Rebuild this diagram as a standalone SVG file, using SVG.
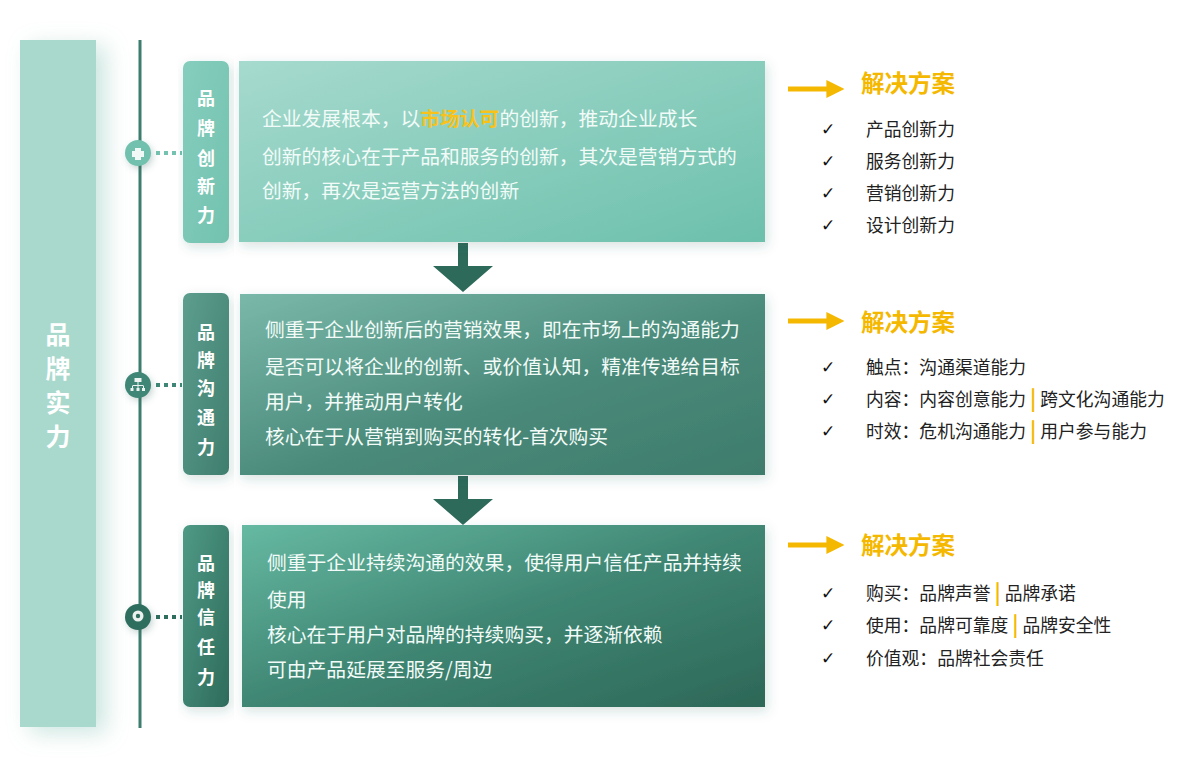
<svg xmlns="http://www.w3.org/2000/svg" width="1200" height="767" viewBox="0 0 1200 767">
<defs>
<linearGradient id="gBox1" x1="0" y1="0" x2="1" y2="1"><stop offset="0" stop-color="#a6dace"/><stop offset="1" stop-color="#6cc0ac"/></linearGradient>
<linearGradient id="gBox2" x1="0" y1="0" x2="1" y2="1"><stop offset="0" stop-color="#7ab9aa"/><stop offset="0.55" stop-color="#4a8a7a"/><stop offset="1" stop-color="#3e7c6c"/></linearGradient>
<linearGradient id="gBox3" x1="0" y1="0" x2="1" y2="1"><stop offset="0" stop-color="#66b9a2"/><stop offset="0.5" stop-color="#3f8673"/><stop offset="1" stop-color="#2d6757"/></linearGradient>
<linearGradient id="gLab1" x1="0" y1="0" x2="1" y2="1"><stop offset="0" stop-color="#86cdbd"/><stop offset="1" stop-color="#72c2af"/></linearGradient>
<linearGradient id="gLab2" x1="0" y1="0" x2="1" y2="1"><stop offset="0" stop-color="#5d9e8e"/><stop offset="1" stop-color="#3f7e6e"/></linearGradient>
<linearGradient id="gLab3" x1="0" y1="0" x2="1" y2="1"><stop offset="0" stop-color="#4f9a85"/><stop offset="1" stop-color="#2e6b5b"/></linearGradient>
<filter id="shadow" x="-10%" y="-10%" width="120%" height="130%"><feDropShadow dx="2" dy="4" stdDeviation="6" flood-color="#2f5e52" flood-opacity="0.18"/></filter>
<filter id="barShadow" x="-30%" y="-5%" width="190%" height="115%"><feDropShadow dx="10" dy="6" stdDeviation="11" flood-color="#6fb8a6" flood-opacity="0.35"/></filter>
<filter id="cshadow" x="-50%" y="-50%" width="200%" height="200%"><feDropShadow dx="2" dy="3" stdDeviation="3" flood-color="#2f5e52" flood-opacity="0.25"/></filter>
<marker id="goldHead" viewBox="0 0 10 10" refX="2" refY="5" markerWidth="3.6" markerHeight="3.6" orient="auto"><path d="M0,0 L10,5 L0,10 z" fill="#f5b800"/></marker>
<style>
.cjk{font-family:"Noto Sans CJK SC","Liberation Sans",sans-serif;}
.body{font-size:19.8px;fill:#f2fbf8;}
.hl{fill:#f9c21b;font-weight:bold;}
.lab{font-size:18px;font-weight:bold;fill:#ffffff;text-anchor:middle;}
.head{font-size:23.5px;font-weight:bold;fill:#f5b800;}
.item{font-size:17.8px;fill:#222222;}
.chk{font-family:"DejaVu Sans",sans-serif;font-size:17px;fill:#111111;}
.bar{fill:#f5b800;font-weight:bold;font-size:21px;}
.dots{stroke-width:4;stroke-dasharray:4 4;fill:none;}
.garrow{stroke:#f5b800;stroke-width:5;fill:none;}
</style>
</defs>
<rect width="1200" height="767" fill="#ffffff"/>

<g id="brand-strength">
<rect x="20" y="40" width="76" height="687" fill="#a9d9cd" filter="url(#barShadow)"/>
<g class="cjk" font-size="25" font-weight="bold" fill="#ffffff" text-anchor="middle">
<text x="58" y="344">品</text><text x="58" y="378">牌</text><text x="58" y="412">实</text><text x="58" y="446">力</text>
</g>
</g>

<g id="timeline">
<line x1="140" y1="40" x2="140" y2="728" stroke="#3d7d6d" stroke-width="3"/>
</g>

<g id="connectors">
<path class="dots" d="M156,153 H182" stroke="#74c2b0"/>
<path class="dots" d="M156,385 H182" stroke="#3f8676"/>
<path class="dots" d="M156,617 H182" stroke="#2f6e5e"/>
<path d="M458,243 H468 V266 H493 L463,292 L433,266 H458 Z" fill="#2d6a5a"/>
<path d="M458,476 H468 V499 H493 L463,525 L433,499 H458 Z" fill="#2d6a5a"/>
<path class="garrow" d="M788,89 H830" marker-end="url(#goldHead)"/>
<path class="garrow" d="M788,321 H830" marker-end="url(#goldHead)"/>
<path class="garrow" d="M788,545 H830" marker-end="url(#goldHead)"/>
</g>

<g id="node-icon-1" filter="url(#cshadow)">
<circle cx="138" cy="153" r="13" fill="#72c1af"/>
<path d="M135,148 h6 v3 h3 v6 h-3 v3 h-6 v-3 h-3 v-6 h3 z" fill="#ffffff" opacity="0.9"/>
</g>
<g id="node-icon-2" filter="url(#cshadow)">
<circle cx="138" cy="385" r="13" fill="#3f8676"/>
<g fill="#ffffff" opacity="0.9">
<rect x="134.5" y="378" width="7" height="4"/>
<rect x="137.5" y="382" width="1" height="3"/>
<rect x="132.5" y="385" width="11" height="1"/>
<rect x="132" y="386" width="1" height="2"/><rect x="137.5" y="386" width="1" height="2"/><rect x="143" y="386" width="1" height="2"/>
<rect x="130.5" y="388" width="3" height="3"/><rect x="136.5" y="388" width="3" height="3"/><rect x="142" y="388" width="3" height="3"/>
</g>
</g>
<g id="node-icon-3" filter="url(#cshadow)">
<circle cx="138" cy="617" r="13" fill="#2f6e5e"/>
<circle cx="138" cy="616" r="5.5" fill="#ffffff" opacity="0.9"/>
<circle cx="138" cy="616" r="2.2" fill="#2f6e5e"/>
</g>

<g id="label-innovation">
<rect x="183" y="61" width="46" height="182" rx="7" fill="url(#gLab1)" filter="url(#shadow)"/>
<g class="cjk lab"><text x="206" y="105">品</text><text x="206" y="135">牌</text><text x="206" y="165">创</text><text x="206" y="193">新</text><text x="206" y="222">力</text></g>
</g>
<g id="label-communication">
<rect x="183" y="293" width="46" height="182" rx="7" fill="url(#gLab2)" filter="url(#shadow)"/>
<g class="cjk lab"><text x="206" y="339">品</text><text x="206" y="367">牌</text><text x="206" y="395">沟</text><text x="206" y="424">通</text><text x="206" y="454">力</text></g>
</g>
<g id="label-trust">
<rect x="183" y="525" width="46" height="182" rx="7" fill="url(#gLab3)" filter="url(#shadow)"/>
<g class="cjk lab"><text x="206" y="570">品</text><text x="206" y="597">牌</text><text x="206" y="624">信</text><text x="206" y="654">任</text><text x="206" y="684">力</text></g>
</g>

<g id="box-innovation">
<rect x="239" y="61" width="526" height="181" fill="url(#gBox1)" filter="url(#shadow)"/>
<g class="cjk body">
<text x="262" y="126">企业发展根本，以<tspan class="hl">市场认可</tspan>的创新，推动企业成长</text>
<text x="262" y="164">创新的核心在于产品和服务的创新，其次是营销方式的</text>
<text x="262" y="198">创新，再次是运营方法的创新</text>
</g>
</g>
<g id="box-communication">
<rect x="240" y="294" width="525" height="181" fill="url(#gBox2)" filter="url(#shadow)"/>
<g class="cjk body">
<text x="265" y="337">侧重于企业创新后的营销效果，即在市场上的沟通能力</text>
<text x="265" y="374">是否可以将企业的创新、或价值认知，精准传递给目标</text>
<text x="265" y="409">用户，并推动用户转化</text>
<text x="265" y="444">核心在于从营销到购买的转化-首次购买</text>
</g>
</g>
<g id="box-trust">
<rect x="242" y="525" width="523" height="182" fill="url(#gBox3)" filter="url(#shadow)"/>
<g class="cjk body">
<text x="267" y="570">侧重于企业持续沟通的效果，使得用户信任产品并持续</text>
<text x="267" y="607">使用</text>
<text x="267" y="642">核心在于用户对品牌的持续购买，并逐渐依赖</text>
<text x="267" y="677">可由产品延展至服务/周边</text>
</g>
</g>

<g id="solution-1">
<text class="cjk head" x="861" y="92">解决方案</text>
<text class="chk" x="821" y="135">✓</text><text class="cjk item" x="866" y="136">产品创新力</text>
<text class="chk" x="821" y="167">✓</text><text class="cjk item" x="866" y="168">服务创新力</text>
<text class="chk" x="821" y="199">✓</text><text class="cjk item" x="866" y="200">营销创新力</text>
<text class="chk" x="821" y="231">✓</text><text class="cjk item" x="866" y="232">设计创新力</text>
</g>
<g id="solution-2">
<text class="cjk head" x="861" y="331">解决方案</text>
<text class="chk" x="821" y="373">✓</text><text class="cjk item" x="866" y="374">触点：沟通渠道能力</text>
<text class="chk" x="821" y="405">✓</text><text class="cjk item" x="866" y="406">内容：内容创意能力<tspan class="bar" dx="4">|</tspan><tspan dx="4">跨文化沟通能力</tspan></text>
<text class="chk" x="821" y="437">✓</text><text class="cjk item" x="866" y="438">时效：危机沟通能力<tspan class="bar" dx="4">|</tspan><tspan dx="4">用户参与能力</tspan></text>
</g>
<g id="solution-3">
<text class="cjk head" x="861" y="554">解决方案</text>
<text class="chk" x="821" y="599">✓</text><text class="cjk item" x="866" y="600">购买：品牌声誉<tspan class="bar" dx="4">|</tspan><tspan dx="4">品牌承诺</tspan></text>
<text class="chk" x="821" y="631">✓</text><text class="cjk item" x="866" y="632">使用：品牌可靠度<tspan class="bar" dx="4">|</tspan><tspan dx="4">品牌安全性</tspan></text>
<text class="chk" x="821" y="664">✓</text><text class="cjk item" x="866" y="665">价值观：品牌社会责任</text>
</g>
</svg>
